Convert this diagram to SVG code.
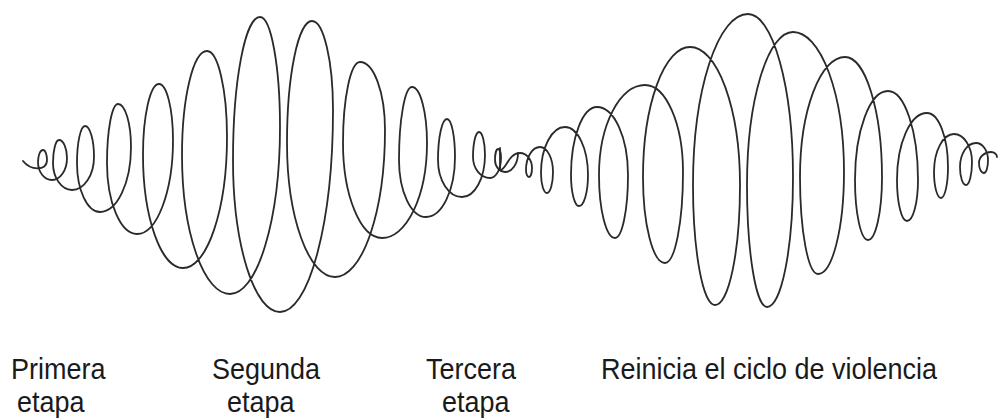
<svg xmlns="http://www.w3.org/2000/svg" width="998" height="418" viewBox="0 0 998 418">
<style>
.sp{fill:none;stroke:#2a2a2a;stroke-width:1.8;stroke-linecap:round;stroke-linejoin:round}
.lb{font-family:"Liberation Sans",Arial,sans-serif;font-size:27px;fill:#1a1a1a}
</style>
<rect width="998" height="418" fill="#ffffff"/>
<g id="spiral-left">
<path class="sp" d="M 23 161 C 30 170 47 172 47 160
A 4 10 0 0 0 43 150 A 5 12 0 0 0 38 162 A 14 18 0 0 0 52 180 A 15 22 0 0 0 67 158
A 8 18 0 0 0 59 140 A 6 23 0 0 0 53 163 A 19 27 0 0 0 72 190 A 22 33 0 0 0 94 157
A 9 31 0 0 0 85 126 A 8 37 0 0 0 77 163 A 23 49 0 0 0 100 212 A 31 65 0 0 0 131 147
A 13 43 0 0 0 118 104 A 11 59 0 0 0 107 163 A 30 71 0 0 0 137 234 A 36 94 0 0 0 173 140
A 14 56 0 0 0 159 84 A 16 71 0 0 0 143 155 A 40 113 0 0 0 183 268 A 44 131 0 0 0 227 137
A 20 86 0 0 0 207 51 A 25 104 0 0 0 182 155 A 48 139 0 0 0 230 294 A 50 167 0 0 0 280 127
A 20 110 0 0 0 260 17 A 27 143 0 0 0 233 160 A 47 152 0 0 0 280 312 A 53 202 0 0 0 333 110
A 21 89 0 0 0 312 21 A 25 122 0 0 0 287 143 A 48 134 0 0 0 335 277 A 50 147 0 0 0 385 130
A 25 68 0 0 0 360 62 A 17 81 0 0 0 343 143 A 39 95 0 0 0 382 238 A 45 95 0 0 0 427 143
A 15 56 0 0 0 412 87 A 13 73 0 0 0 399 160 A 27 57 0 0 0 426 217 A 29 60 0 0 0 455 157
A 8 38 0 0 0 447 119 A 9 41 0 0 0 438 160 A 24 37 0 0 0 462 197 A 23 42 0 0 0 485 155
A 6 23 0 0 0 479 132 A 6 25 0 0 0 473 157 A 17 21 0 0 0 490 178 A 11 20 0 0 0 501 158
A 3 9 0 0 0 498 149 A 3 11 0 0 0 495 160 A 10 12 0 0 0 505 172 A 13 19 0 0 0 518 153"/>
</g>
<g id="spiral-right">
<path class="sp" d="M 500 148 L 500 170 C 506 171 508 153 520 153 A 12 15 0 0 1 532 168
A 3 9 0 0 1 529 177 A 3 7 0 0 1 526 170 A 14 23 0 0 1 540 147 A 13 25 0 0 1 553 172
A 6 21 0 0 1 547 193 A 6 20 0 0 1 541 173 A 24 46 0 0 1 565 127 A 23 48 0 0 1 588 175
A 9 31 0 0 1 579 206 A 8 31 0 0 1 571 175 A 26 68 0 0 1 597 107 A 31 68 0 0 1 628 175
A 13 63 0 0 1 615 238 A 16 63 0 0 1 599 175 A 46 90 0 0 1 645 85 A 38 87 0 0 1 683 172
A 18 91 0 0 1 665 263 A 22 86 0 0 1 643 177 A 47 130 0 0 1 690 47 A 50 138 0 0 1 740 185
A 25 120 0 0 1 715 305 A 22 120 0 0 1 693 185 A 55 171 0 0 1 748 14 A 45 163 0 0 1 793 177
A 26 130 0 0 1 767 307 A 20 122 0 0 1 747 185 A 46 153 0 0 1 793 32 A 51 140 0 0 1 844 172
A 26 102 0 0 1 818 274 A 18 97 0 0 1 800 177 A 45 120 0 0 1 845 57 A 37 120 0 0 1 882 177
A 14 63 0 0 1 868 240 A 13 60 0 0 1 855 180 A 33 89 0 0 1 888 91 A 30 89 0 0 1 918 180
A 11 41 0 0 1 907 221 A 10 41 0 0 1 897 180 A 30 67 0 0 1 927 113 A 21 54 0 0 1 948 167
A 7 31 0 0 1 941 198 A 7 26 0 0 1 934 172 A 20 38 0 0 1 954 134 A 18 28 0 0 1 972 162
A 6 23 0 0 1 966 185 A 6 18 0 0 1 960 167 A 16 24 0 0 1 976 143 A 12 17 0 0 1 988 160
A 4 13 0 0 1 984 173 A 5 10 0 0 1 979 163 A 12 11 0 0 1 991 152 A 6 5 0 0 1 997 157"/>
</g>
<g id="labels" transform="matrix(1 0 0 1.08 0 -30.3)">
<text class="lb" x="11" y="379">Primera</text>
<text class="lb" x="17" y="409.5">etapa</text>
<text class="lb" x="212" y="379">Segunda</text>
<text class="lb" x="227" y="409.5">etapa</text>
<text class="lb" x="426" y="379">Tercera</text>
<text class="lb" x="442" y="409.5">etapa</text>
<text class="lb" x="601" y="379">Reinicia el ciclo de violencia</text>
</g>
</svg>
